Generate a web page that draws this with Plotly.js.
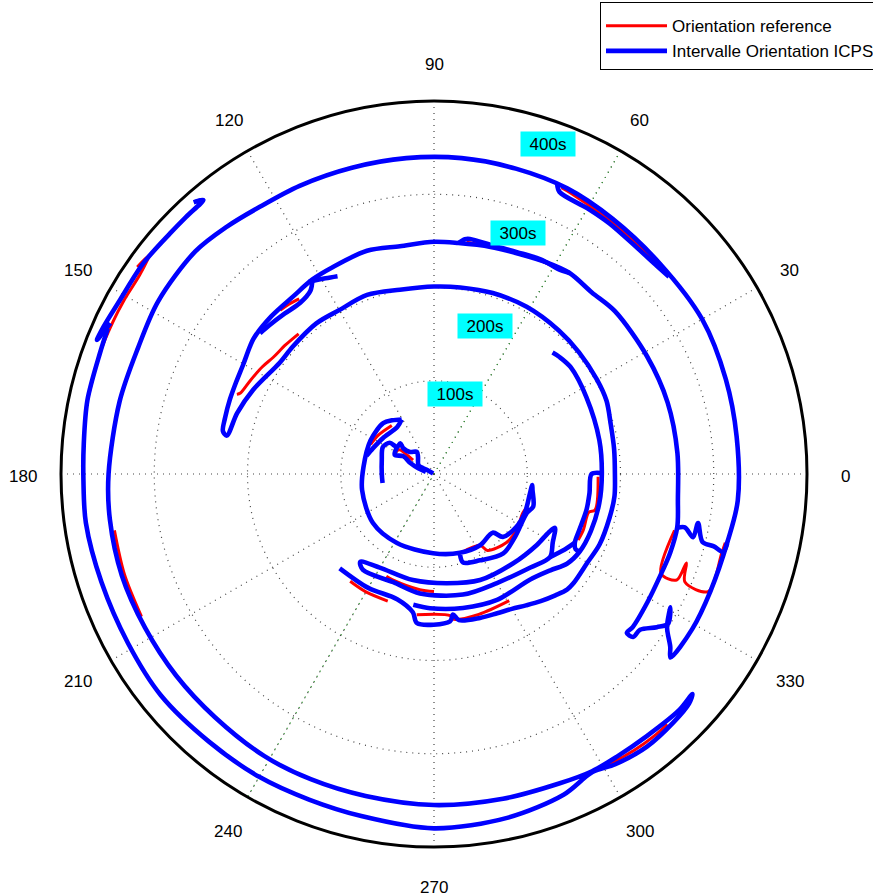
<!DOCTYPE html>
<html><head><meta charset="utf-8">
<script src="https://cdn.plot.ly/plotly-3.0.1.min.js"></script>
<style>html,body{margin:0;padding:0;background:#fff}#chart{width:873px;height:896px}</style>
</head><body><div id="chart"></div>
<script>
// ---- Data: [orientation (deg), time (s)] ----
// Blue: interval (ICPS) outlines
const blueMain = [
 [156,383],[160,381],[168,380],[175,377],[181,376],[188,377],[198,375],[209,375],[219,377],[230,375],[240,375],[249,374],[258,375],[270,380],[282,377],[292,371],[298,362],
 [302,367],[308,371],[314,370],[318,368],[319.6,364],
 [316,365],[309,362],[303,361],[298,361],
 [292,358],[282,356],[270,355],[258,353],[248,353],[239,353],[228,351],[218,351],[208,351],[198,352],[188,351],[180,349],[167,346],[157,345],[148,349],[137,350],[130,346],[123,342],[115,341],[105,340],[95,340],[85,340],[75,339],[65,338],[55,334],[43,331],[30,332],[18,329],[7,327],[-5,327],[-13,323],[-23,322],[-31,323],[-37.8,321],
 [-36.2,314],[-33.3,299],[-29.4,291],[-32.6,298],[-34.5,290],[-37.1,277],[-39.3,276],[-39.5,268],
 [-37.6,269],[-31,267],[-24.5,266],[-18.5,267],[-12.3,267],[-6,263],[5,262],[17,262],[29,261],[42,261],[49,258],[56,260],[62,257],[69,253],[76,251],[84,249],[90,249],[98.5,247],[106.7,250],[116,247],[122,246],[128.5,243],[136,243],[143,242],[145.4,240],
 [150,236],[155,234],[160,233],[165,232],[168.5,231],[169.5,226],
 [162.8,221],[155.1,214],[144.2,204],[138,204],[128,205],[120,203],[110.5,205],[100.5,201],[90,201],[82,202],[72,204],[61,205],[49,204],[40,203],[30,202],[23,201],[16,197],[8,195],[0,194],[-7,195],[-14,194],[-23,193],[-30,190],[-38,190],[-41,189],
 [-45,184],[-50,178],[-55,172],[-60,167],[-65.6,164],[-72.3,162],[-80.3,159],[-82.3,152],[-83.8,159],[-96.5,161],[-98.7,150],
 [-106.4,140],[-120,141],[-135,143]
];
const blueShort = [[45.7,182],[43,184],[38,186],[26.7,183],[11.6,181],[0.3,180],[-10,180],[-20,179],[-28,177],[-34,172],[-39.6,162],[-47.8,153],[-63.4,151],[-77.8,147],[-91.7,144],[-99,142]];
const blueBoxTop = [[-12.5,267],[-12,275],[-13.7,286],[-10.5,288],[-14.2,297],[-14.5,310],[-15.1,321],[-13.3,323]];
const blueInnerBox = [[0.3,180],[0,169],[-7,168],[-13,168],[-21,167],[-26,168],[-28,172],[-28,177]];
const blueQ = [[230,123],[239.9,116],[258.8,116],[276.8,118],[293.5,124],[311.6,128],[325.4,134],[333,138],[336,142],[330,147],[324.4,153],[315.9,144],[300,135],[283.5,133],[263.3,129],[249.4,124],[233.5,128],[230,123]];
const blueQLink = [[324.4,153],[330,162],[334,168]];
const blueC = [[120.7,68],[128,73],[135,77],[152,77],[174.4,76],[192.5,79],[218.8,84],[241.8,84],[269.3,85],[288.2,89],[302.9,91],[315,89],[317.6,100],[327.4,105],[336.8,106],[348.8,105],[353.6,106],[350.8,107],[341.9,112],[337.2,108],[322.1,110],[311.1,113],[298.1,105],[288.2,100],[288,90]];
const blueCTop = [[120.7,68],[128,64],[145,67],[157,71],[165,75]];
const blueCurl = [[150,1],[150,9],[150.6,19],[133.3,25],[127.7,30],[137.5,35],[140,43],[137.6,49],[143.9,49],[144.8,58],[152.1,62],[164.9,58],[180,56],[190,56]];
const blueCurl2 = [[143.9,49],[154,47],[150,38],[155,28],[160,18],[165,9]];
const blueT250Band = [[84,249],[82.5,254],[81.3,255],[75.6,253],[69.5,254],[63.6,257],[58.9,257],[56,260]];
const blueL1Band = [[67,338],[66,331],[60,329],[55,328],[48,326],[43,327],[40,329]];
const blueHook = [[123,246],[119,240],[116,236]];
const blueLoop = [[122,246],[124,237],[128,233],[133,235],[138,238],[141,240]];
const blueB1 = [[131.5,389],[130.5,386],[130.1,384],[134,383],[137.6,383],[144,385],[151,385],[156,388],[158.3,389],[155,383]];

// Red: reference orientation (visible parts)
const redOuter = [[145.1,388],[142.4,385],[145.9,381],[150.6,381],[154.7,381],[160,381],[168,380]];
const redL2Band = [[298,361],[302,364],[306,366],[310,367],[313,367]];
const redL1Band = [[66,336],[64,335],[56,331],[48,329],[42,329]];
const redL1Left = [[190,348],[198,349],[206,349]];
const redBox = [[-13.2,265],[-23.7,266],[-23.6,284],[-19.4,287],[-23.3,293],[-23.2,320],[-15.3,320],[-13.3,321]];
const redT250Band = [[82,251],[75,252],[69,254],[63,256],[58,258]];
const redUpperLoop = [[127.6,237],[130,239],[133.2,241]];
const redBand = [[158,228],[157.3,225],[153,221],[148,217],[144,213],[139,211],[134,209]];
const redInnerBox = [[-1,176],[-12.6,177],[-13.9,171],[-20.6,171],[-24.6,170]];
const redQ = [[245,121],[249,122],[263,125],[270,126]];
const redRbit = [[232,146],[240,146],[250,145]];
const redS = [[263,152],[276.6,153],[277.4,157],[287.7,158],[300.7,158]];
const redC = [[290.4,89],[302.9,91],[304.9,100],[316.6,107],[326,107],[336.3,104],[340.5,106]];
const redCTop = [[131,69],[145.6,73],[155,75]];
const redCurl = [[150.6,48],[144.8,45],[144.9,35],[146.3,27]];

const angleTicks = [0,30,60,90,120,150,180,210,240,270,300,330];
const radialTicks = [100,200,300,400];
const radialLabels = ['100s','200s','300s','400s'];
const greenSpokeTheta = [60,60,240];
const greenSpokeR = [400,0,400];

function join(strokes){
  const th=[], r=[];
  strokes.forEach((s,i)=>{ if(i){th.push(null); r.push(null);} s.forEach(p=>{th.push(p[0]); r.push(p[1]);}); });
  return {th, r};
}
const blue = join([blueMain,blueShort,blueBoxTop,blueInnerBox,blueQ,blueQLink,blueC,blueCTop,blueCurl,blueCurl2,blueT250Band,blueL1Band,blueHook,blueLoop,blueB1]);
const red = join([redOuter,redL2Band,redL1Band,redL1Left,redBox,redT250Band,redUpperLoop,redBand,redInnerBox,redQ,redRbit,redS,redC,redCTop,redCurl]);

const FONT = 'Liberation Sans, Arial, sans-serif';
const traces = [
  {type:'scatterpolar', mode:'lines', theta:greenSpokeTheta, r:greenSpokeR, showlegend:false, hoverinfo:'skip',
   line:{color:'#2e9a2e', width:1.2, dash:'1px,5px'}},
  {type:'scatterpolar', mode:'lines', name:'Orientation reference', theta:red.th, r:red.r, connectgaps:false,
   line:{color:'#ff0000', width:3, shape:'spline', smoothing:0.9}},
  {type:'scatterpolar', mode:'lines', name:'Intervalle Orientation ICPS', theta:blue.th, r:blue.r, connectgaps:false,
   line:{color:'#0000ff', width:4.6, shape:'spline', smoothing:0.9}}
];

const W=873, H=896, ml=61, mr=66, mt=101, mb=49;
const pw = W-ml-mr, ph = H-mt-mb;
const cx = ml + pw/2, cy = mt + ph/2 + 2, labelR = 411;
const labelPx = [[455,394],[485,313],[518,220],[548,131]];
const annotations = radialLabels.map((t,i)=>({
  text:t, xref:'paper', yref:'paper', x:(labelPx[i][0]-ml)/pw, y:(H-mb-labelPx[i][1])/ph,
  showarrow:false, bgcolor:'#00ffff', width:52, height:22, borderpad:1,
  font:{family:FONT, size:17, color:'#000'}
})).concat(angleTicks.map(a=>{
  const px = cx + labelR*Math.cos(a*Math.PI/180), py = cy - labelR*Math.sin(a*Math.PI/180);
  return {text:String(a), xref:'paper', yref:'paper', x:(px-ml)/pw, y:(H-mb-py)/ph,
    xanchor:'center', yanchor:'middle', showarrow:false, font:{family:FONT, size:17, color:'#000'}};
}));

const layout = {
  width:W, height:H, margin:{l:ml, r:mr, t:mt, b:mb, autoexpand:false},
  paper_bgcolor:'#fff', showlegend:true,
  font:{family:FONT, size:17, color:'#000'},
  polar:{
    bgcolor:'#fff',
    radialaxis:{range:[0,400], tickvals:radialTicks, showticklabels:false, ticks:'', showline:false,
      gridcolor:'#444', griddash:'1px,5px', gridwidth:1.2},
    angularaxis:{direction:'counterclockwise', rotation:0, tickmode:'array', tickvals:angleTicks,
      showticklabels:false, ticks:'', showline:true, linecolor:'#000', linewidth:3,
      gridcolor:'#444', griddash:'1px,5px', gridwidth:1.2}
  },
  legend:{x:(600-ml)/pw, y:(H-mb-2)/ph, xanchor:'left', yanchor:'top', bgcolor:'#fff',
    bordercolor:'#000', borderwidth:1, itemwidth:61, font:{family:FONT, size:17, color:'#000'},
    title:{text:' ', font:{size:4}}},
  annotations
};
Plotly.newPlot('chart', traces, layout, {staticPlot:true, displayModeBar:false});
</script></body></html>
